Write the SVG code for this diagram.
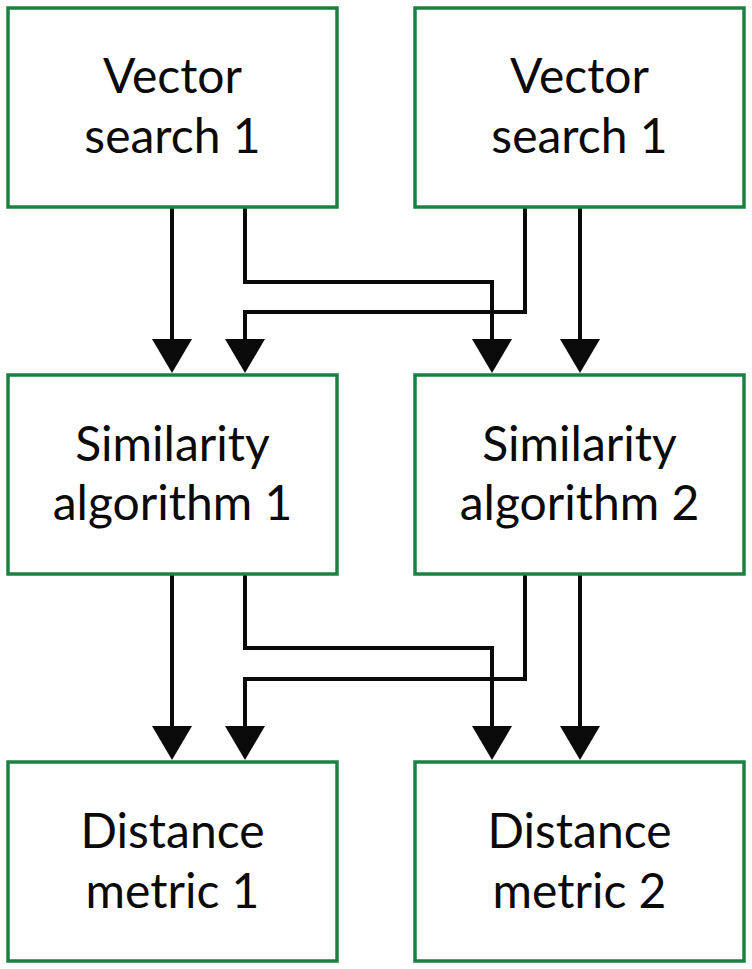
<svg xmlns="http://www.w3.org/2000/svg" width="752" height="969" viewBox="0 0 752 969">
<style>
.box{fill:#ffffff;stroke:#1b8042;stroke-width:3.5}
.lbl{font-family:"Lato","Liberation Sans",sans-serif;font-size:48px;fill:#0a0a0a;text-anchor:middle}
.wire{fill:none;stroke:#0a0a0a;stroke-width:4;stroke-linejoin:miter}
</style>
<defs>
<marker id="arr" markerUnits="userSpaceOnUse" markerWidth="36" markerHeight="42" viewBox="0 0 36 42" refX="2" refY="21" orient="auto">
<path d="M0,1 L34,21 L0,41 Z" fill="#0a0a0a"/>
</marker>
</defs>
<rect width="752" height="969" fill="#ffffff"/>
<g id="connectors">
<path class="wire" d="M172,208 V341" marker-end="url(#arr)"/>
<path class="wire" d="M245,208 V282 H492 V341" marker-end="url(#arr)"/>
<path class="wire" d="M525,208 V312 H245 V341" marker-end="url(#arr)"/>
<path class="wire" d="M580,208 V341" marker-end="url(#arr)"/>
<path class="wire" d="M172,575 V728" marker-end="url(#arr)"/>
<path class="wire" d="M245,575 V648 H492 V728" marker-end="url(#arr)"/>
<path class="wire" d="M525,575 V679 H245 V728" marker-end="url(#arr)"/>
<path class="wire" d="M580,575 V728" marker-end="url(#arr)"/>
</g>
<g id="vs1">
<rect class="box" x="8" y="8" width="329" height="199"/>
<text class="lbl" x="172.5" y="93">Vector</text>
<text class="lbl" x="172.5" y="153">search 1</text>
</g>
<g id="vs2">
<rect class="box" x="415" y="8" width="329" height="199"/>
<text class="lbl" x="579.5" y="93">Vector</text>
<text class="lbl" x="579.5" y="153">search 1</text>
</g>
<g id="sa1">
<rect class="box" x="8" y="375" width="329" height="199"/>
<text class="lbl" x="172.5" y="461">Similarity</text>
<text class="lbl" x="172.5" y="520">algorithm 1</text>
</g>
<g id="sa2">
<rect class="box" x="415" y="375" width="329" height="199"/>
<text class="lbl" x="579.5" y="461">Similarity</text>
<text class="lbl" x="579.5" y="520">algorithm 2</text>
</g>
<g id="dm1">
<rect class="box" x="8" y="762" width="329" height="199"/>
<text class="lbl" x="172.5" y="848">Distance</text>
<text class="lbl" x="172.5" y="908">metric 1</text>
</g>
<g id="dm2">
<rect class="box" x="415" y="762" width="329" height="199"/>
<text class="lbl" x="579.5" y="848">Distance</text>
<text class="lbl" x="579.5" y="908">metric 2</text>
</g>
</svg>
